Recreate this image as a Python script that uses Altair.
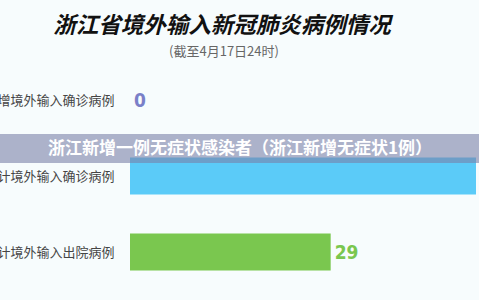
import altair as alt
import pandas as pd

title_text = ["浙江省境外输入新冠肺炎病例情况"]
subtitle_text = ["(截至4月17日24时)"]
banner_text = ["浙江新增一例无症状感染者（浙江新增无症状1例）"]

categories = ["新增境外输入确诊病例", "累计境外输入确诊病例", "累计境外输入出院病例"]
values = [0, 50, 29]
colors = ["#7a80c8", "#5bcbf8", "#7ac74f"]

df = pd.DataFrame({"category": categories, "value": values, "color": colors})

CJK = "Noto Sans CJK SC"
LEFT = 130

y_enc = alt.Y(
    "category:N",
    sort=categories,
    scale=alt.Scale(type="point", range=[62, 290], padding=0.5),
    axis=alt.Axis(title=None, domain=False, ticks=False, grid=False,
                  labelPadding=16, labelFontSize=13, labelColor="#454545",
                  labelFont=CJK, labelLimit=300),
)
x_enc = alt.X("value:Q", scale=alt.Scale(domain=[0, 50], range=[0, 346]), axis=None)

base = alt.Chart(df)

bars = base.mark_bar(size=37).encode(
    x=x_enc, y=y_enc, color=alt.Color("color:N", scale=None)
)

labels = base.mark_text(align="left", baseline="middle", dx=4, dy=1,
                        font="DejaVu Sans Condensed", fontWeight="bold",
                        fontSize=19).encode(
    x=x_enc, y=y_enc, text="value:Q", color=alt.Color("color:N", scale=None)
)

title = alt.Chart(pd.DataFrame({"t": title_text})).mark_text(
    font=CJK, fontWeight="bold", fontStyle="italic", fontSize=22.5,
    color="#111111", baseline="middle", align="center"
).encode(x=alt.value(222 - LEFT), y=alt.value(26), text="t:N")

subtitle = alt.Chart(pd.DataFrame({"t": subtitle_text})).mark_text(
    font=CJK, fontSize=13, color="#666666", baseline="middle", align="center"
).encode(x=alt.value(224 - LEFT), y=alt.value(52), text="t:N")

banner = alt.Chart(pd.DataFrame({"t": banner_text})).mark_rect(
    color="#7a80a8", opacity=0.6
).encode(x=alt.value(-LEFT), x2=alt.value(479 - LEFT),
         y=alt.value(134), y2=alt.value(163))

banner_t = alt.Chart(pd.DataFrame({"t": banner_text})).mark_text(
    font=CJK, fontWeight="bold", fontSize=17, color="#ffffff",
    baseline="middle", align="center"
).encode(x=alt.value(240 - LEFT), y=alt.value(149), text="t:N")

chart = alt.layer(bars, labels, banner, banner_t, title, subtitle).properties(
    width=349, height=300,
    padding={"left": LEFT, "top": 0, "right": 0, "bottom": 0},
    autosize=alt.AutoSizeParams(type="none"),
    background="#f7fcfd",
).configure_view(stroke=None)

chart.save("out.html", embed_options={"renderer": "svg", "actions": False})
